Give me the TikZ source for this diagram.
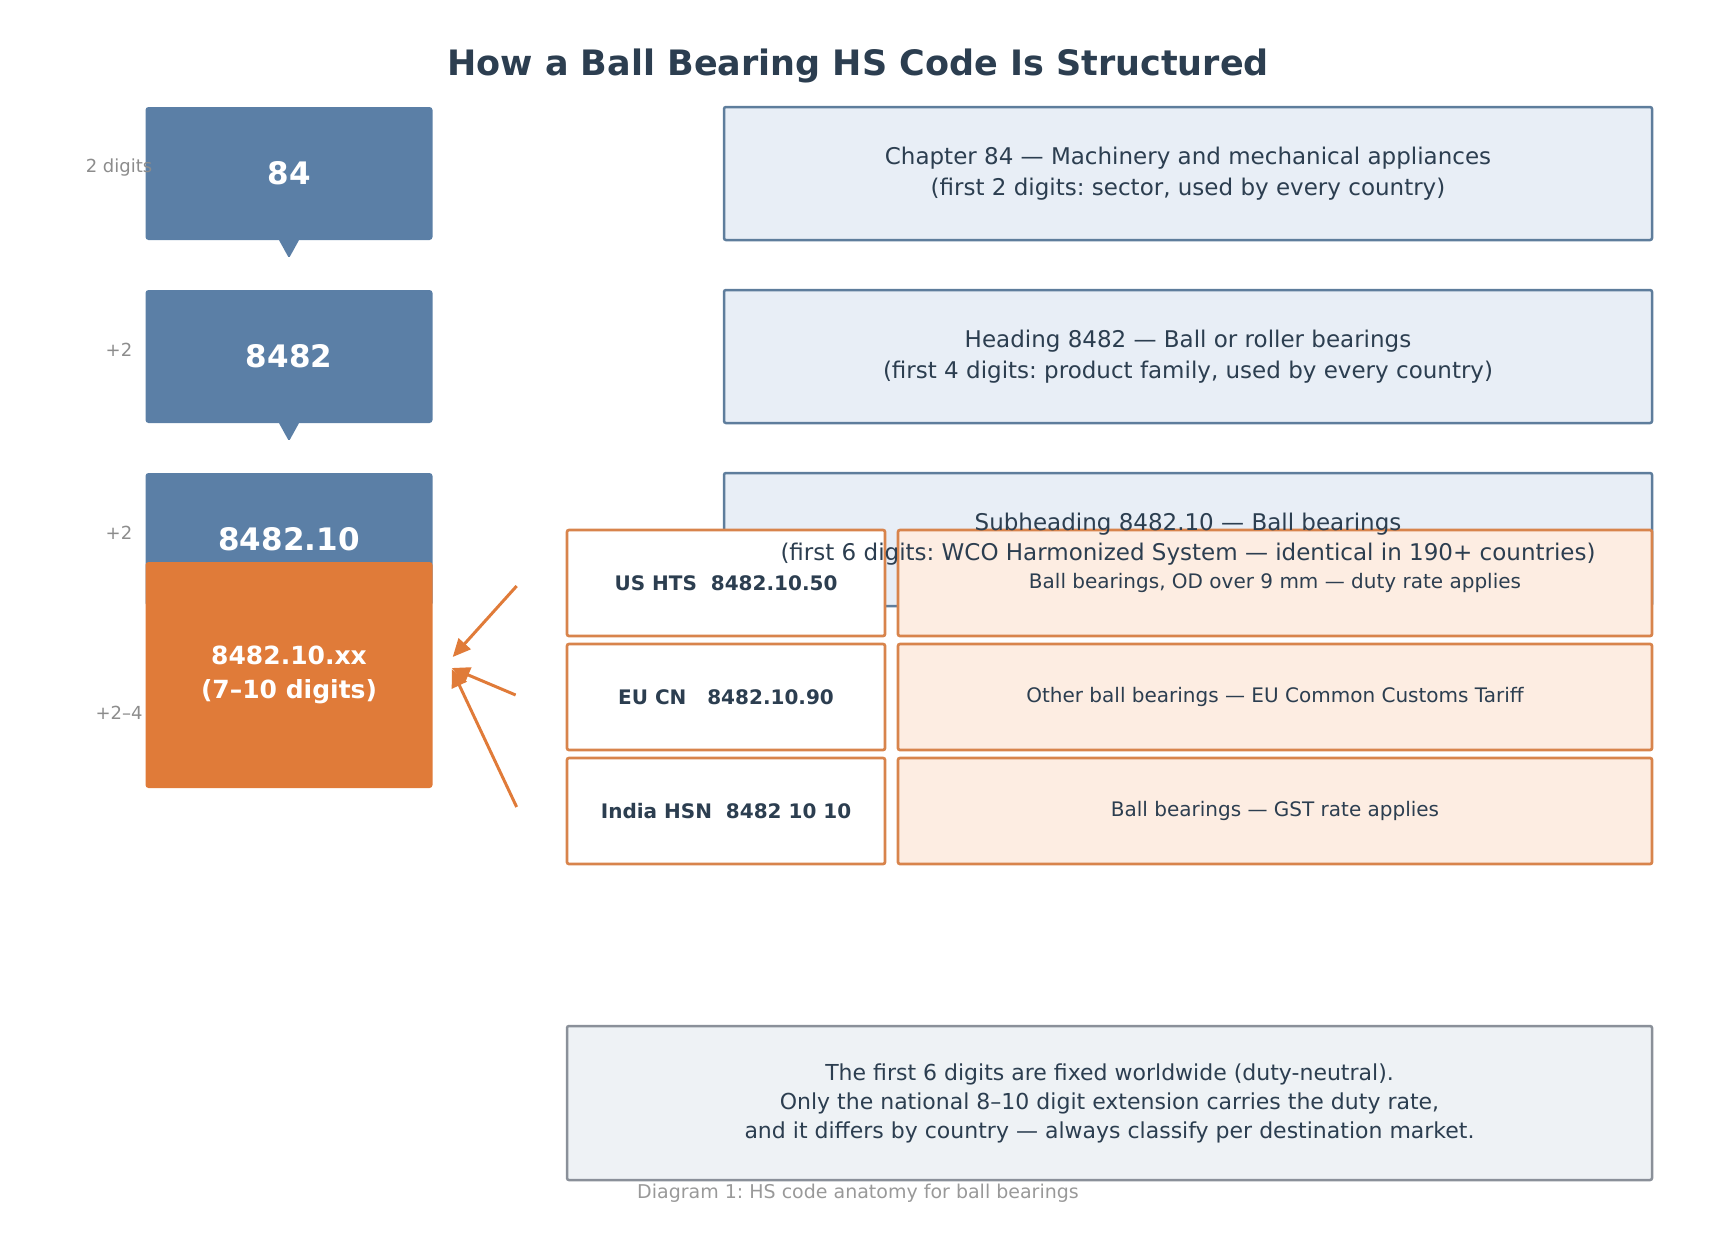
\documentclass[tikz,border=0pt]{standalone}
\usepackage{fontspec}
\setmainfont{DejaVu Sans}
\frenchspacing
\usetikzlibrary{arrows.meta,calc}
\definecolor{ink}{HTML}{2C3E50}
\definecolor{steel}{HTML}{5B7FA6}
\definecolor{steelline}{HTML}{5E7D9C}
\definecolor{paleblue}{HTML}{E8EEF6}
\definecolor{orng}{HTML}{E07B39}
\definecolor{orngline}{HTML}{D8844C}
\definecolor{paleorng}{HTML}{FDEDE2}
\definecolor{notefill}{HTML}{EEF2F5}
\definecolor{noteline}{HTML}{8A9099}
\definecolor{lblgray}{HTML}{8C8C8C}
\definecolor{capgray}{HTML}{999999}
\begin{document}
\begin{tikzpicture}[x=1bp,y=-1bp,
  codebox/.style={fill=steel, rounded corners=3bp, minimum width=287bp, minimum height=133bp,
    inner sep=0pt, text=white, font=\fontsize{31bp}{37bp}\selectfont\bfseries},
  extbox/.style={fill=orng, rounded corners=3bp, minimum width=287bp, minimum height=226bp,
    inner sep=0pt, align=center, text=white, font=\fontsize{25bp}{33.5bp}\selectfont\bfseries},
  infobox/.style={draw=steelline, line width=2.5bp, fill=paleblue, rounded corners=2bp,
    minimum width=928bp, minimum height=133bp, inner sep=0pt, align=center, text=ink,
    font=\fontsize{23bp}{31bp}\selectfont},
  infotext/.style={inner sep=0pt, align=center, text=ink, font=\fontsize{23bp}{30bp}\selectfont},
  natbox/.style={draw=orngline, line width=2.7bp, fill=white, rounded corners=2bp,
    minimum width=318bp, minimum height=106bp, inner sep=0pt, text=ink,
    font=\fontsize{20bp}{24bp}\selectfont\bfseries},
  ratebox/.style={draw=orngline, line width=2.7bp, fill=paleorng, rounded corners=2bp,
    minimum width=754bp, minimum height=106bp, inner sep=0pt, text=ink,
    font=\fontsize{20bp}{24bp}\selectfont},
  notebox/.style={draw=noteline, line width=2.5bp, fill=notefill, rounded corners=2bp,
    minimum width=1085bp, minimum height=154bp, inner sep=0pt, align=center, text=ink,
    font=\fontsize{22bp}{29bp}\selectfont},
  sidelabel/.style={inner sep=0pt, text=lblgray, font=\fontsize{18bp}{22bp}\selectfont},
  pointer/.style={fill=steel, rounded corners=1.5bp},
  feed/.style={draw=orng, line width=3bp, -{Triangle[length=18bp,width=16bp]}}
]
\useasboundingbox (0,0) rectangle (1717,1241);

% title
\node[anchor=base, inner sep=0pt, text=ink, font=\fontsize{35bp}{42bp}\selectfont\bfseries]
  (title) at (858,75) {How a Ball Bearing HS Code Is Structured};

% left column
\node[codebox] (c2) at (289,173.5) {84};
\node[codebox] (c4) at (289,356.5) {8482};
\node[codebox] (c6) at (289,539.5) {8482.10};
\fill[pointer] ($(c2.south)+(-10.5,-1)$) -- ($(c2.south)+(10.5,-1)$) -- ($(c2.south)+(0,18)$) -- cycle;
\fill[pointer] ($(c4.south)+(-10.5,-1)$) -- ($(c4.south)+(10.5,-1)$) -- ($(c4.south)+(0,18)$) -- cycle;
\node[extbox] (ext) at (289,675) {8482.10.xx\\(7–10 digits)};

\node[sidelabel] (l2) at (119,168) {2 digits};
\node[sidelabel] (l4) at (119,350) {+2};
\node[sidelabel] (l6) at (119,533) {+2};
\node[sidelabel] (l8) at (119,713) {+2–4};

% right column
\node[infobox] (i2) at (1188,173.5) {Chapter 84 — Machinery and mechanical appliances\\(first 2 digits: sector, used by every country)};
\node[infobox] (i4) at (1188,356.5) {Heading 8482 — Ball or roller bearings\\(first 4 digits: product family, used by every country)};
\node[infobox] (i6) at (1188,539.5) {};

% national extensions
\node[natbox] (us) at (726,583) {US HTS\ \ 8482.10.50};
\node[natbox] (eu) at (726,697) {EU CN\ \ \ 8482.10.90};
\node[natbox] (in) at (726,811) {India HSN\ \ 8482 10 10};
\node[ratebox] (usr) at (1275,583) {\raisebox{2bp}{Ball bearings, OD over 9 mm — duty rate applies}};
\node[ratebox] (eur) at (1275,697) {Other ball bearings — EU Common Customs Tariff};
\node[ratebox] (inr) at (1275,811) {Ball bearings — GST rate applies};

\node[infotext] (i6t) at ($(i6.center)+(0,0)$) {Subheading 8482.10 — Ball bearings\\(first 6 digits: WCO Harmonized System — identical in 190+ countries)};

% arrows
\coordinate (usfrom) at ($(us.west)+(-49,3)$);
\coordinate (eufrom) at ($(eu.west)+(-50,-2)$);
\coordinate (infrom) at ($(in.west)+(-49,-4)$);
\coordinate (usto) at ($(ext.east)+(20,-18)$);
\coordinate (euto) at ($(ext.east)+(19,-7)$);
\coordinate (into) at ($(ext.east)+(19,-6)$);
\draw[feed] (usfrom) -- (usto);
\draw[feed] (eufrom) -- (euto);
\draw[feed] (infrom) -- (into);

% note
\node[notebox] (note) at (1109.5,1103) {The first 6 digits are fixed worldwide (duty-neutral).\\Only the national 8–10 digit extension carries the duty rate,\\and it differs by country — always classify per destination market.};

\node[anchor=base, inner sep=0pt, text=capgray, font=\fontsize{19bp}{23bp}\selectfont]
  (cap) at (858,1198) {Diagram 1: HS code anatomy for ball bearings};
\end{tikzpicture}
\end{document}
